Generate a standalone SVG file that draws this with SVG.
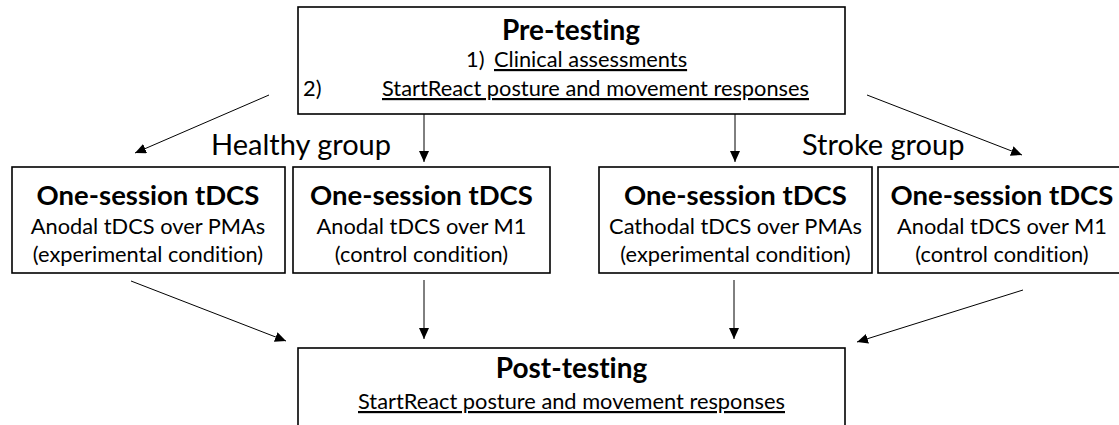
<svg xmlns="http://www.w3.org/2000/svg" width="1119" height="425" viewBox="0 0 1119 425">
<defs>
<style>
.box{fill:#fff;stroke:#000;stroke-width:1.6}
.t{font-family:Lato,"Liberation Sans",sans-serif;fill:#000;font-variant-ligatures:none}
.ttl{font-size:27.5px;font-weight:bold;text-anchor:middle}
.big{font-size:28px}
.sub{font-size:21.8px;text-anchor:middle}
.ln{font-size:21.8px}
.grp{font-size:29px}
.u{text-decoration:underline}
.c{stroke:#000;stroke-width:1;fill:none;marker-end:url(#ah)}
</style>
<marker id="ah" markerUnits="userSpaceOnUse" markerWidth="12" markerHeight="10" refX="11" refY="5" orient="auto">
<path d="M0,0 L11,5 L0,10 Z" fill="#000"/>
</marker>
</defs>
<rect width="1119" height="425" fill="#fff"/>
<g id="connectors">
<line class="c" x1="424" y1="114" x2="424" y2="162"/>
<line class="c" x1="735" y1="114" x2="735" y2="162"/>
<line class="c" x1="269" y1="95" x2="135" y2="153"/>
<line class="c" x1="867" y1="95" x2="1022" y2="155"/>
<line class="c" x1="424" y1="280" x2="424" y2="339"/>
<line class="c" x1="734" y1="280" x2="734" y2="339"/>
<line class="c" x1="131" y1="281" x2="286" y2="341"/>
<line class="c" x1="1023" y1="290" x2="857" y2="342"/>
</g>
<g id="pre">
<rect class="box" x="298" y="7" width="547" height="107"/>
<text class="t ttl big" x="571" y="40">Pre-testing</text>
<text class="t ln" x="466" y="67">1)</text>
<text class="t ln u" x="494" y="67">Clinical assessments</text>
<text class="t ln" x="303" y="96">2)</text>
<text class="t ln u" x="382" y="96">StartReact posture and movement responses</text>
</g>
<g id="healthy-label"><text class="t grp" x="211" y="155">Healthy group</text></g>
<g id="stroke-label"><text class="t grp" x="802" y="155">Stroke group</text></g>
<g id="box1">
<rect class="box" x="12" y="167" width="273" height="106"/>
<text class="t ttl" x="148" y="205">One-session tDCS</text>
<text class="t sub" x="148" y="234">Anodal tDCS over PMAs</text>
<text class="t sub" x="148" y="262">(experimental condition)</text>
</g>
<g id="box2">
<rect class="box" x="293" y="167" width="257" height="106"/>
<text class="t ttl" x="421.5" y="205">One-session tDCS</text>
<text class="t sub" x="421.5" y="234">Anodal tDCS over M1</text>
<text class="t sub" x="421.5" y="262">(control condition)</text>
</g>
<g id="box3">
<rect class="box" x="599" y="167" width="273" height="106"/>
<text class="t ttl" x="735.5" y="205">One-session tDCS</text>
<text class="t sub" x="735.5" y="234">Cathodal tDCS over PMAs</text>
<text class="t sub" x="735.5" y="262">(experimental condition)</text>
</g>
<g id="box4">
<rect class="box" x="878" y="167" width="257" height="106"/>
<text class="t ttl" x="1002" y="205">One-session tDCS</text>
<text class="t sub" x="1002" y="234">Anodal tDCS over M1</text>
<text class="t sub" x="1002" y="262">(control condition)</text>
</g>
<g id="post">
<rect class="box" x="298" y="348" width="547" height="100"/>
<text class="t ttl big" x="571.5" y="378">Post-testing</text>
<text class="t sub u" x="571.5" y="409">StartReact posture and movement responses</text>
</g>
</svg>
